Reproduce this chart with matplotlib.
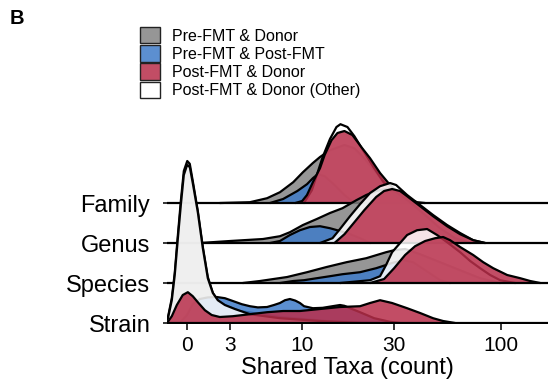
import numpy as np
import matplotlib.pyplot as plt
from matplotlib.colors import to_rgba
from matplotlib.patches import Patch

plt.rcParams['font.family'] = ['Liberation Sans', 'DejaVu Sans']

levels = ['Strain', 'Species', 'Genus', 'Family']
groups = ['Pre-FMT & Donor', 'Pre-FMT & Post-FMT', 'Post-FMT & Donor', 'Post-FMT & Donor (Other)']
colors = ['#848484', '#3f7cc8', '#b82e4a', '#ffffff']
draw_order = [0, 1, 3, 2]

# density ridges: x = shared taxa (count), h = scaled density
str_grey_x = [-1.51, -1.29, -1.03, -0.83, -0.63, -0.42, -0.22, 0.01, 0.18, 0.38, 0.72, 1.06, 1.40, 1.75, 2.24, 3.74, 7.40, 13.6, 25.6]
str_grey_h = [0, 0.15, 0.62, 1.25, 2.15, 3.05, 3.8, 4.05, 3.98, 3.55, 2.8, 1.9, 1.15, 0.75, 0.5, 0.3, 0.15, 0.05, 0]
str_blue_x = [-0.49, 0.0, 0.38, 0.86, 1.40, 2.03, 2.61, 3.20, 3.90, 4.56, 5.25, 6.10, 6.78, 7.40, 7.95, 8.51, 9.15,
              9.73, 10.27, 11.49, 12.98, 14.63, 16.01, 16.88, 18.03, 20.27, 23.88, 28.65, 32.11]
str_blue_h = [0, 0.2, 0.47, 0.6, 0.64, 0.65, 0.62, 0.55, 0.47, 0.42, 0.39, 0.4, 0.45, 0.5, 0.57, 0.6, 0.56,
              0.5, 0.42, 0.37, 0.38, 0.42, 0.45, 0.43, 0.37, 0.27, 0.12, 0.03, 0]
str_red_x = [-1.36, -1.03, -0.69, -0.29, 0.05, 0.38, 0.72, 1.20, 1.67, 2.24, 3.20, 4.56, 6.10, 7.74, 9.73, 12.56,
             16.01, 20.27, 22.77, 25.55, 29.32, 34.78, 40.29, 46.64, 52.2, 59.75]
str_red_h = [0, 0.17, 0.45, 0.7, 0.77, 0.67, 0.52, 0.32, 0.2, 0.15, 0.17, 0.22, 0.27, 0.3, 0.3, 0.35,
             0.4, 0.42, 0.5, 0.57, 0.5, 0.37, 0.25, 0.12, 0.05, 0]
str_white_x = [-1.51, -1.29, -1.03, -0.83, -0.63, -0.42, -0.22, 0.0, 0.18, 0.38, 0.72, 1.06, 1.40, 1.75, 2.10, 2.61,
               3.36, 4.56, 7.40, 12.56, 20.27]
str_white_h = [0, 0.12, 0.57, 1.2, 2.07, 2.95, 3.7, 3.95, 3.9, 3.5, 2.77, 1.87, 1.12, 0.75, 0.57, 0.45,
               0.35, 0.22, 0.12, 0.05, 0]

spe_grey_x = [3.98, 5.44, 8.19, 10.66, 13.62, 17.29, 21.78, 27.37, 30.0, 34.0, 40.29, 50.49, 63.2, 79.1, 99.0]
spe_grey_h = [0, 0.05, 0.15, 0.27, 0.4, 0.52, 0.62, 0.77, 0.82, 0.85, 0.72, 0.52, 0.32, 0.12, 0]
spe_blue_x = [7.40, 8.90, 10.25, 12.07, 14.19, 16.49, 20.27, 24.43, 29.32, 33.25, 37.21, 42.63, 50.49, 56.5]
spe_blue_h = [0, 0.05, 0.07, 0.12, 0.17, 0.22, 0.27, 0.37, 0.5, 0.57, 0.52, 0.32, 0.07, 0]
spe_red_x = [22.77, 26.76, 30.0, 34.0, 38.06, 42.63, 47.70, 52.2, 56.5, 63.2, 73.2, 81.9, 91.6, 107.1, 123.9, 138.5, 155.0]
spe_red_h = [0, 0.1, 0.37, 0.7, 0.92, 1.05, 1.12, 1.15, 1.07, 0.9, 0.7, 0.52, 0.37, 0.2, 0.12, 0.05, 0]
spe_white_x = [16.01, 22.77, 25.55, 27.37, 29.32, 32.11, 34.78, 38.93, 43.60, 48.79, 54.6, 63.2, 70.75, 79.1, 88.5, 99.0, 117.2]
spe_white_h = [0, 0.07, 0.17, 0.45, 0.77, 1.0, 1.2, 1.32, 1.35, 1.2, 1.02, 0.77, 0.55, 0.37, 0.2, 0.07, 0]

gen_grey_x = [0.86, 2.98, 5.72, 7.40, 8.51, 10.12, 12.07, 14.19, 16.49, 19.41, 21.78, 24.43, 27.37, 30.70, 35.98,
              42.63, 50.49, 59.75, 70.75]
gen_grey_h = [0, 0.05, 0.1, 0.17, 0.27, 0.45, 0.6, 0.75, 0.87, 1.07, 1.2, 1.3, 1.35, 1.27, 1.02,
              0.7, 0.37, 0.12, 0]
gen_blue_x = [6.38, 7.40, 8.51, 9.73, 11.07, 12.56, 14.19, 16.01, 18.03, 20.27, 22.77]
gen_blue_h = [0, 0.05, 0.2, 0.32, 0.4, 0.42, 0.37, 0.3, 0.22, 0.12, 0]
gen_red_x = [14.99, 16.88, 18.98, 21.29, 24.43, 26.76, 29.32, 32.11, 34.78, 40.29, 46.64, 54.6, 63.2, 73.2, 83.7]
gen_red_h = [0, 0.22, 0.52, 0.82, 1.15, 1.3, 1.35, 1.3, 1.17, 0.92, 0.67, 0.42, 0.22, 0.07, 0]
gen_white_x = [12.56, 14.63, 16.01, 18.03, 20.27, 22.77, 25.55, 28.65, 30.70, 34.78, 40.29, 46.64, 54.6, 63.2, 73.2, 83.7]
gen_white_h = [0, 0.12, 0.35, 0.67, 0.97, 1.25, 1.42, 1.5, 1.45, 1.2, 0.95, 0.7, 0.45, 0.25, 0.07, 0]

fam_grey_x = [2.24, 4.56, 6.10, 7.40, 8.90, 10.12, 11.49, 12.56, 14.19, 16.88, 18.98, 21.29, 23.88, 26.76, 30.0, 34.0, 38.06]
fam_grey_h = [0, 0.02, 0.12, 0.27, 0.52, 0.77, 1.0, 1.15, 1.32, 1.45, 1.37, 1.12, 0.82, 0.52, 0.25, 0.07, 0]
fam_blue_x = [6.38, 7.74, 9.40, 10.66, 11.49, 12.22, 13.30, 14.99, 16.88, 18.98]
fam_blue_h = [0, 0.1, 0.3, 0.47, 0.62, 0.72, 0.67, 0.45, 0.2, 0]
fam_red_x = [9.15, 10.02, 10.66, 11.49, 12.56, 13.30, 14.46, 15.53, 16.88, 18.54, 20.57, 22.77, 25.55, 28.65, 33.25, 38.93, 42.63]
fam_red_h = [0, 0.05, 0.2, 0.52, 0.87, 1.2, 1.57, 1.75, 1.8, 1.7, 1.4, 1.12, 0.75, 0.45, 0.15, 0.02, 0]
fam_white_x = [10.25, 11.35, 12.07, 12.98, 14.19, 15.35, 16.10, 17.49, 18.98, 21.29, 23.88, 26.76, 30.0, 34.0]
fam_white_h = [0, 0.32, 0.7, 1.15, 1.6, 1.9, 1.97, 1.9, 1.67, 1.27, 0.87, 0.5, 0.2, 0]

ridges = {
    'Strain': [(str_grey_x, str_grey_h), (str_blue_x, str_blue_h), (str_red_x, str_red_h), (str_white_x, str_white_h)],
    'Species': [(spe_grey_x, spe_grey_h), (spe_blue_x, spe_blue_h), (spe_red_x, spe_red_h), (spe_white_x, spe_white_h)],
    'Genus': [(gen_grey_x, gen_grey_h), (gen_blue_x, gen_blue_h), (gen_red_x, gen_red_h), (gen_white_x, gen_white_h)],
    'Family': [(fam_grey_x, fam_grey_h), (fam_blue_x, fam_blue_h), (fam_red_x, fam_red_h), (fam_white_x, fam_white_h)],
}

tick_vals = [0, 3, 10, 30, 100]
alpha = 0.85
lw = 1.6

fig = plt.figure(figsize=(5.48, 3.86), dpi=100)
ax = fig.add_axes([0.3047, 0.1606, 0.6953, 0.5207])

# pseudo-log axis
ax.set_xscale('function', functions=(lambda x: np.arcsinh(np.asarray(x) / 6.0),
                                     lambda y: 6.0 * np.sinh(np.asarray(y))))
ax.set_xlim(-1.36, 169)
ax.set_ylim(-0.025, 5.0)

# top row first so lower rows overlap it
for i in range(len(levels) - 1, -1, -1):
    level = levels[i]
    z = 10 + (len(levels) - 1 - i) * 10
    for k, g in enumerate(draw_order):
        x, h = ridges[level][g]
        x = np.array(x)
        top = i + np.array(h)
        ax.fill_between(x, i, top, facecolor=colors[g], alpha=alpha, lw=0, zorder=z + k)
        ax.plot(x, top, color='black', lw=lw, solid_joinstyle='round', solid_capstyle='round', zorder=z + k + 0.5)
    ax.axhline(i, color='black', lw=lw, zorder=z + 5)

for s in ax.spines.values():
    s.set_visible(False)

ax.set_xticks(tick_vals)
ax.set_xticklabels([str(v) for v in tick_vals])
ax.xaxis.set_minor_locator(plt.NullLocator())
ax.set_yticks(range(len(levels)))
ax.set_yticklabels(levels)
ax.tick_params(axis='x', length=4.5, width=1.1, pad=4, labelsize=15)
ax.tick_params(axis='y', length=3, width=1.1, pad=9, labelsize=17)

ax.set_xlabel('Shared Taxa (count)', fontsize=17)
ax.xaxis.set_label_coords(0.4738, -0.165)

handles = [Patch(facecolor=to_rgba(colors[g], alpha), edgecolor='#222222', lw=1.0) for g in range(4)]
fig.legend(handles, groups, loc='upper left', bbox_to_anchor=(140 / 548, 1 - 27 / 386),
           frameon=False, fontsize=11.5, handlelength=1.25, handleheight=1.2,
           labelspacing=0.1, handletextpad=0.75, borderpad=0, borderaxespad=0)

fig.text(10 / 548, 1 - 9 / 386, 'B', fontsize=14.5, fontweight='bold', va='top', ha='left')

fig.savefig('out.png', dpi=100)
